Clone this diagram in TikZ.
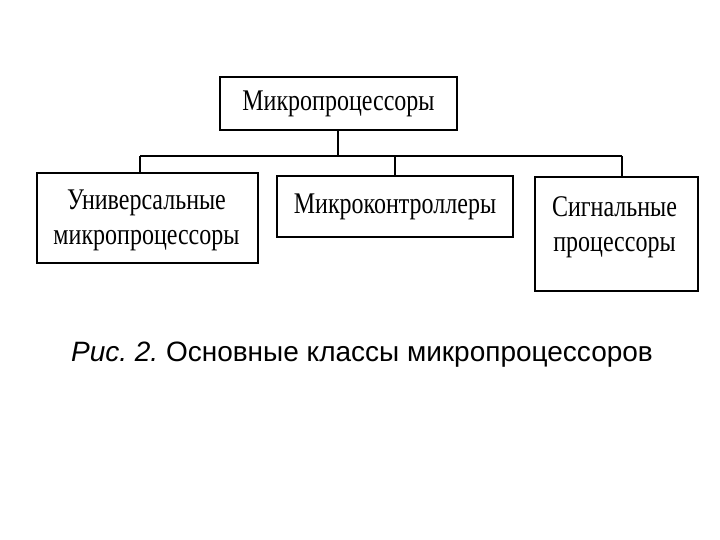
\documentclass[tikz,border=0pt]{standalone}
\usepackage{fontspec}
\setmainfont{Liberation Serif}
\newfontfamily\capfont{Liberation Sans}
\newcommand{\sq}[1]{\scalebox{0.8}[1]{\begin{tabular}{@{}c@{}}#1\end{tabular}}}
\begin{document}
\frenchspacing
\begin{tikzpicture}[x=1pt,y=-1pt,
  box/.style={draw,line width=1.6pt,rectangle,inner sep=0pt,align=center,font=\fontsize{30}{35}\selectfont},
  conn/.style={line width=1.6pt}]
\useasboundingbox (0,0) rectangle (720,540);
\node[box,minimum width=237,minimum height=53] (top) at (338.5,103.5) {\sq{Микропроцессоры}};
\node[box,minimum width=221,minimum height=90] (b1) at (147.5,218) {};
\node[align=center,inner sep=0pt,font=\fontsize{30}{35}\selectfont] (t1) at (146.5,220) {\sq{Универсальные\\микропроцессоры}};
\node[box,minimum width=236,minimum height=61] (b2) at (395,206.5) {\sq{Микроконтроллеры}};
\node[box,minimum width=163,minimum height=114] (b3) at (616.5,234) {};
\node[align=center,inner sep=0pt,font=\fontsize{30}{35}\selectfont] (t3) at (614.5,227) {\sq{Сигнальные\\процессоры}};
\coordinate (jt) at (338,156);
\coordinate (j1) at (140,156);
\coordinate (j2) at (395,156);
\coordinate (j3) at (622,156);
\draw[conn] (top.south -| jt) -- (jt);
\draw[conn] (j1) -- (j3);
\draw[conn] (j1) -- (j1 |- b1.north);
\draw[conn] (j2) -- (j2 |- b2.north);
\draw[conn] (j3) -- (j3 |- b3.north);
\node[anchor=base,inner sep=0pt,font=\capfont\fontsize{28}{30}\selectfont] (cap) at (362,361) {\textit{Рис. 2.} Основные классы микропроцессоров};
\end{tikzpicture}
\end{document}
